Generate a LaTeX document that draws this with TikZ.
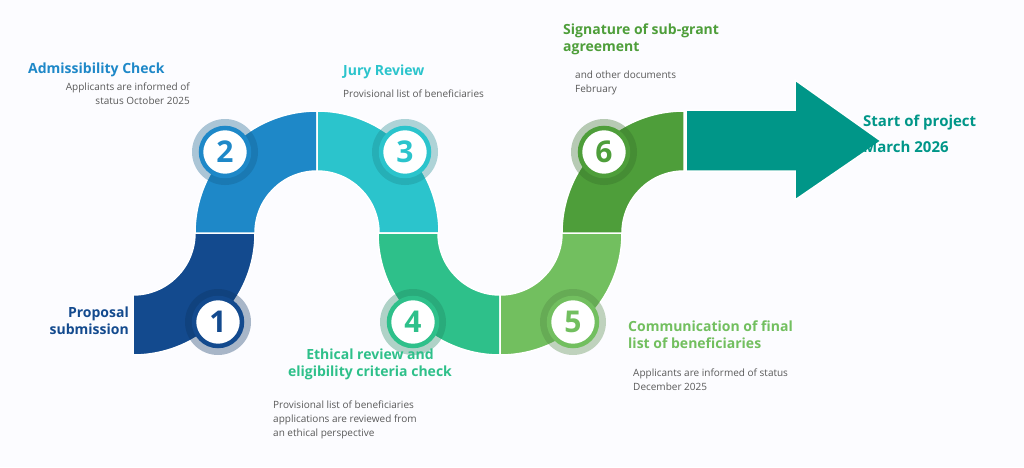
\documentclass[tikz,border=0pt]{standalone}
\usepackage{fontspec}
\setmainfont{Open Sans}
\begin{document}
\begin{tikzpicture}[x=1pt,y=1pt,
  seg/.style={draw=white,line width=1.5pt},
  badge/.style={circle,fill=white,draw=#1,line width=4.5pt,minimum size=48pt,inner sep=0pt,text=#1,font=\fontsize{30}{30}\selectfont\bfseries},
  ttl/.style={font=\fontsize{14}{17}\selectfont\bfseries,inner sep=0pt,align=left},
  sub/.style={font=\fontsize{10}{14}\selectfont,text=black!65,inner sep=0pt,align=left}]
\definecolor{c1}{HTML}{134A8E}
\definecolor{c2}{HTML}{1E88C8}
\definecolor{c3}{HTML}{2BC4CC}
\definecolor{c4}{HTML}{2EC08A}
\definecolor{c5}{HTML}{72BF5F}
\definecolor{c6}{HTML}{4E9E3A}
\definecolor{c7}{HTML}{009688}
\fill[white!96!blue!30!white] (0,0) rectangle (1024,467);
\useasboundingbox (0,0) rectangle (1024,467);
% segments
\path[seg,fill=c1] (133,112) arc[start angle=-90,end angle=0,radius=122] -- (195,234) arc[start angle=0,end angle=-90,radius=62] -- cycle;
\path[seg,fill=c2] (195,234) arc[start angle=180,end angle=90,radius=122] -- (317,296) arc[start angle=90,end angle=180,radius=62] -- cycle;
\path[seg,fill=c3] (317,356) arc[start angle=90,end angle=0,radius=122] -- (379,234) arc[start angle=0,end angle=90,radius=62] -- cycle;
\path[seg,fill=c4] (378,234) arc[start angle=180,end angle=270,radius=122] -- (500,172) arc[start angle=270,end angle=180,radius=62] -- cycle;
\path[seg,fill=c5] (500,112) arc[start angle=270,end angle=360,radius=122] -- (562,234) arc[start angle=360,end angle=270,radius=62] -- cycle;
\path[seg,fill=c6] (562,234) arc[start angle=180,end angle=90,radius=122] -- (684,296) arc[start angle=90,end angle=180,radius=62] -- cycle;
\path[seg,fill=c7] (686,357) -- (795,357) -- (795,387) -- (881,326) -- (795,267) -- (795,296) -- (686,296) -- cycle;
% badges
\foreach \n/\x/\y/\c in {1/218/145/c1,2/225/315/c2,3/405/315/c3,4/413/145/c4,5/573/145/c5,6/604/315/c6}{
  \fill[\c!70!black,opacity=0.35] (\x,\y) circle (33);
  \node[badge=\c] (b\n) at (\x,\y) {\n};
}
% texts
\node[ttl,text=c2,anchor=west] (t2) at (28,397) {Admissibility Check};
\node[sub,anchor=north east,align=right] (s2) at (190,384) {Applicants are informed of\\status October 2025};
\node[ttl,text=c3,anchor=west] (t3) at (343,395) {Jury Review};
\node[sub,anchor=north west] (s3) at (343,377) {Provisional list of beneficiaries};
\node[ttl,text=c6,anchor=north west] (t6) at (563,443) {Signature of sub-grant\\agreement};
\node[sub,anchor=north west] (s6) at (575,396) {and other documents\\February};
\node[ttl,text=c7,anchor=north west,font=\fontsize{15}{26}\selectfont\bfseries] (t7) at (863,352) {Start of project\\March 2026};
\node[ttl,text=c1,anchor=north east,align=right] (t1) at (129,160) {Proposal\\submission};
\node[ttl,text=c4,anchor=north,align=center] (t4) at (370,118) {Ethical review and\\eligibility criteria check};
\node[sub,anchor=north west] (s4) at (273,66) {Provisional list of beneficiaries\\applications are reviewed from\\an ethical perspective};
\node[ttl,text=c5,anchor=north west] (t5) at (628,146) {Communication of final\\list of beneficiaries};
\node[sub,anchor=north west] (s5) at (633,98) {Applicants are informed of status\\December 2025};
\end{tikzpicture}
\end{document}
